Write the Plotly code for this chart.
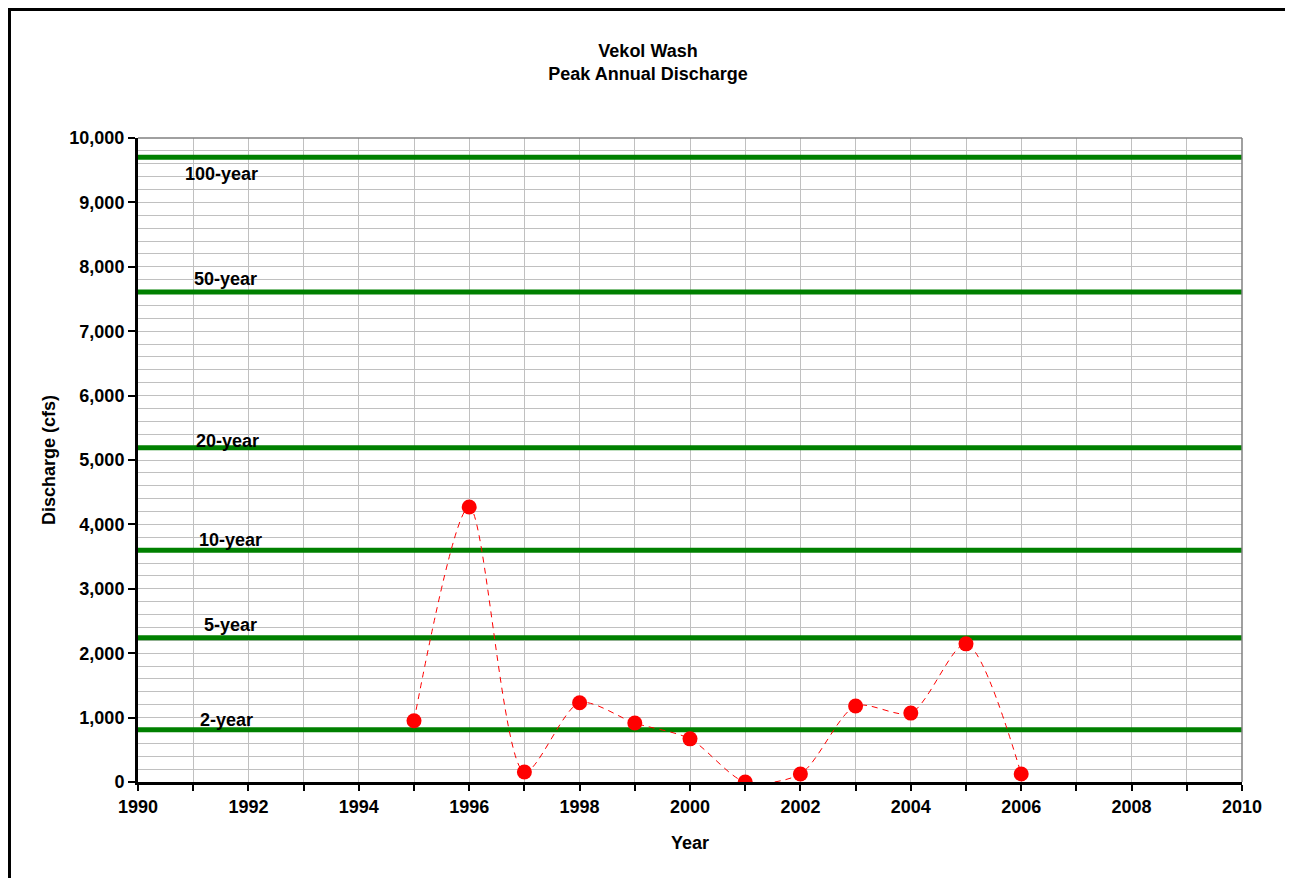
import plotly.graph_objects as go

years = [1995, 1996, 1997, 1998, 1999, 2000, 2001, 2002, 2003, 2004, 2005, 2006]
discharge = [950, 4270, 155, 1230, 915, 670, 0, 125, 1180, 1070, 2145, 125]

flood_names = ['100-year', '50-year', '20-year', '10-year', '5-year', '2-year']
flood_values = [9700, 7610, 5190, 3600, 2240, 810]

# label placement (x in years, vertical offset in px from the line)
label_x = [1991.52, 1991.58, 1991.63, 1991.68, 1991.68, 1991.6]
label_shift = [-17, 13, 7, 10, 13, 10]

FONT = 'Liberation Sans, Arial, sans-serif'
FS = 18

fig = go.Figure()

for name, v in zip(flood_names, flood_values):
    fig.add_trace(go.Scatter(x=[1990, 2010], y=[v, v], mode='lines', name=name,
                             line=dict(color='#008000', width=5), hoverinfo='skip'))

fig.add_trace(go.Scatter(x=years, y=discharge, mode='lines+markers', name='Peak',
                         line=dict(color='#ff0000', width=1, dash='6px,5px', shape='spline', smoothing=0.8),
                         marker=dict(color='#ff0000', size=15)))

for name, v, lx, ys in zip(flood_names, flood_values, label_x, label_shift):
    fig.add_annotation(x=lx, y=v, text=name, showarrow=False, yshift=ys,
                       font=dict(family=FONT, size=FS, color='black', weight='bold'))

# outer chart border
fig.add_shape(type='rect', xref='paper', yref='paper', x0=-0.1164, x1=1.0412, y0=-0.25, y1=1.1995,
              line=dict(color='black', width=3), layer='above')
# plot area top/right border
fig.add_shape(type='line', xref='paper', yref='paper', x0=0, x1=1, y0=1, y1=1,
              line=dict(color='#808080', width=1.5))
fig.add_shape(type='line', xref='paper', yref='paper', x0=1, x1=1, y0=0, y1=1,
              line=dict(color='#808080', width=1.5))

fig.update_xaxes(range=[1990, 2010], tickmode='linear', tick0=1990, dtick=2,
                 showgrid=True, gridcolor='#c0c0c0', gridwidth=1,
                 ticks='outside', ticklen=6, tickwidth=2, tickcolor='black',
                 minor=dict(dtick=1, tick0=1990, showgrid=True, gridcolor='#c0c0c0', gridwidth=1,
                            ticks='outside', ticklen=6, tickwidth=2, tickcolor='black'),
                 showline=True, linecolor='black', linewidth=3, zeroline=False,
                 tickfont=dict(family=FONT, size=FS, color='black', weight='bold'),
                 title=dict(text='Year', standoff=21,
                            font=dict(family=FONT, size=FS, color='black', weight='bold')))
fig.update_yaxes(range=[0, 10000], tickmode='linear', tick0=0, dtick=1000, tickformat=',',
                 showgrid=True, gridcolor='#c0c0c0', gridwidth=1,
                 ticks='outside', ticklen=7, tickwidth=2, tickcolor='black',
                 minor=dict(dtick=200, tick0=0, showgrid=True, gridcolor='#c0c0c0', gridwidth=1),
                 showline=True, linecolor='black', linewidth=3, zeroline=False,
                 tickfont=dict(family=FONT, size=FS, color='black', weight='bold'),
                 title=dict(text='Discharge (cfs)', standoff=10,
                            font=dict(family=FONT, size=FS, color='black', weight='bold')))

fig.update_layout(width=1293, height=878, showlegend=False,
                  margin=dict(l=130, r=59, t=130, b=104, autoexpand=False),
                  plot_bgcolor='white', paper_bgcolor='white',
                  title=dict(text='Vekol Wash<br>Peak Annual Discharge', x=0.495, xanchor='center',
                             y=0.9445, yanchor='middle',
                             font=dict(family=FONT, size=FS, color='black', weight='bold')))

fig.write_html("out.html")
